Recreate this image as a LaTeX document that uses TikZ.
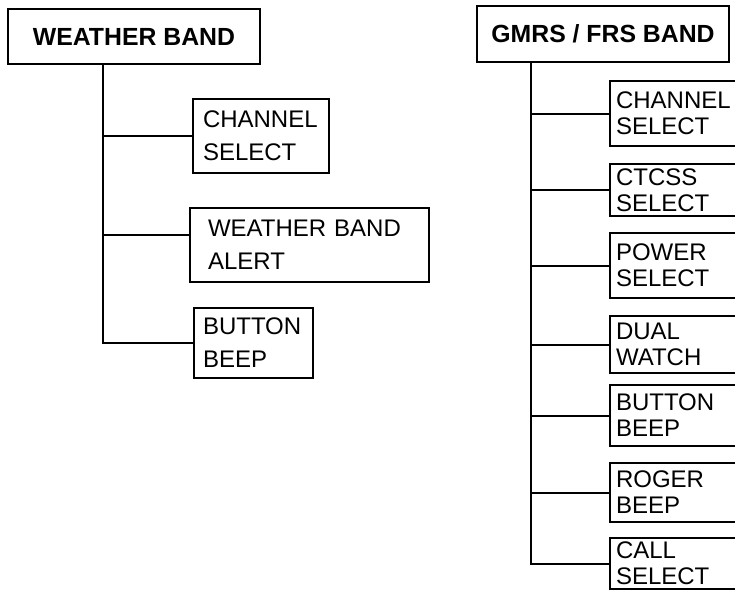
\documentclass[tikz,border=0pt]{standalone}
\usepackage{fontspec}
\setmainfont{Liberation Sans}
\begin{document}
\begin{tikzpicture}[x=0.75pt, y=-0.75pt, line width=1.5pt, line join=miter,
	band/.style={draw, minimum width=189pt, minimum height=41.5pt, inner sep=0pt, font=\fontsize{18.6}{22}\selectfont\bfseries},
	leftitem/.style={draw, anchor=north west, align=left, inner ysep=0pt, font=\fontsize{18}{24.75}\selectfont},
	rightitem/.style={draw, anchor=north west, align=left, inner xsep=4.5pt, inner ysep=0pt, text width=96.75pt, font=\fontsize{18}{19.5}\selectfont}]
	\clip (0,0) rectangle (735,590);
	
	% Hai khung tiêu đề
	\node[band] (wb) at (134,36.5) {WEATHER BAND};
	\node[band] (gm) at (603,34) {GMRS / FRS BAND};
	
	% Các mục của WEATHER BAND
	\node[leftitem, inner xsep=7.5pt, text width=87pt, minimum height=55.5pt] (wbch) at (192,98) {CHANNEL\\SELECT};
	\node[leftitem, inner xsep=13.5pt, text width=152.25pt, minimum height=55.5pt] (wbal) at (189,207) {WEATHER BAND\\ALERT};
	\node[leftitem, inner xsep=6.75pt, text width=75.75pt, minimum height=52.5pt] (wbbp) at (193,307) {BUTTON\\BEEP};
	
	% Các mục của GMRS / FRS BAND
	\foreach \name/\top/\hh/\txt in {gch/80/65/{CHANNEL\\SELECT}, gct/163/52/{CTCSS\\SELECT},
		gpw/232/65/{POWER\\SELECT}, gdw/315/57/{DUAL\\WATCH}, gbb/384/61/{BUTTON\\BEEP},
		grb/462/59/{ROGER\\BEEP}, gcs/537/51/{CALL\\SELECT}} {
		\node[rightitem, minimum height=\hh*0.75pt] (\name) at (609,\top) {\txt};
	}
	
	% Đường nối
	\coordinate (wbtop) at (103,64);
	\coordinate (gmtop) at (531,62);
	\foreach \item in {wbch, wbbp} {
		\draw (wbtop) |- (\item.west);
	}
	\draw (wbtop) |- ([yshift=7.5pt]wbal.west);
	\foreach \item in {gch, gct, gpw, gdw, gbb, grb, gcs} {
		\draw (gmtop) |- (\item.west);
	}
\end{tikzpicture}
\end{document}
